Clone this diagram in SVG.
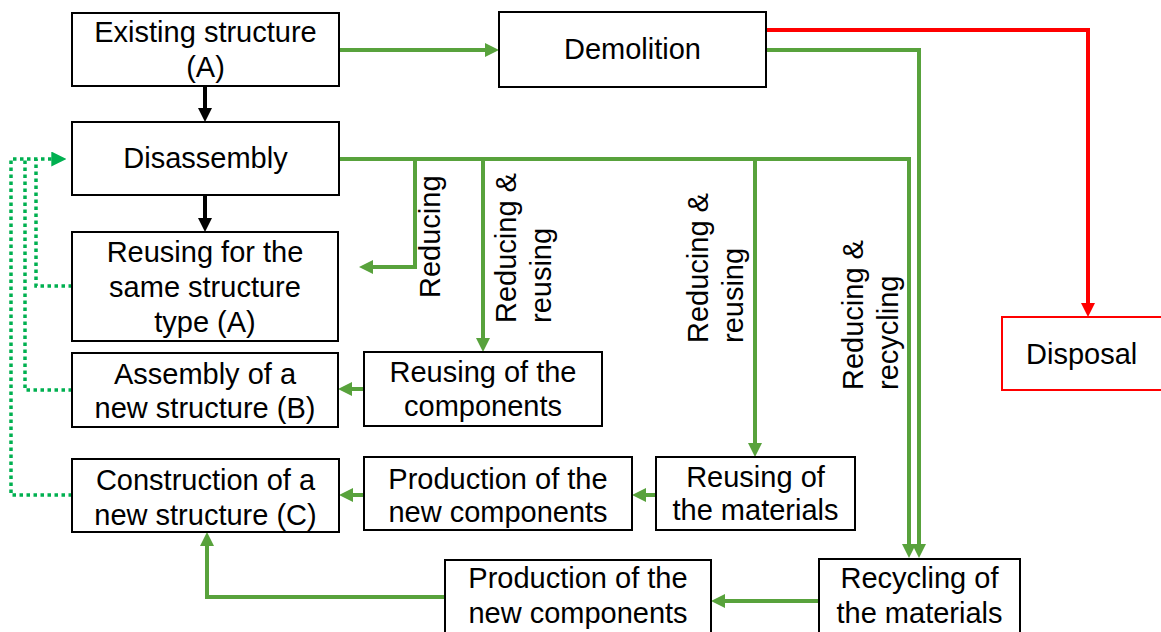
<svg xmlns="http://www.w3.org/2000/svg" width="1161" height="632" viewBox="0 0 1161 632">
<style>
.box{fill:#fff;stroke:#000;stroke-width:2}
.rbox{fill:#fff;stroke:#ff0000;stroke-width:2}
text{font-family:"Liberation Sans",Arial,sans-serif;font-size:29px;fill:#000}
.c{text-anchor:middle}
.g{fill:none;stroke:#58a23c;stroke-width:4;stroke-linejoin:miter}
.r{fill:none;stroke:#ff0000;stroke-width:4}
.k{fill:none;stroke:#000;stroke-width:4}
.d{fill:none;stroke:#00b050;stroke-width:3.5;stroke-dasharray:3.5 3.5}
</style>
<defs>
<marker id="ag" viewBox="0 0 14 14" refX="8" refY="7" markerWidth="14" markerHeight="14" markerUnits="userSpaceOnUse" orient="auto"><path d="M0,0 L14,7 L0,14 z" fill="#58a23c"/></marker>
<marker id="ar" viewBox="0 0 14 14" refX="8" refY="7" markerWidth="14" markerHeight="14" markerUnits="userSpaceOnUse" orient="auto"><path d="M0,0 L14,7 L0,14 z" fill="#ff0000"/></marker>
<marker id="ak" viewBox="0 0 14 14" refX="8" refY="7" markerWidth="14" markerHeight="14" markerUnits="userSpaceOnUse" orient="auto"><path d="M0,0 L14,7 L0,14 z" fill="#000"/></marker>
<marker id="ad" viewBox="0 0 14 14" refX="10" refY="7" markerWidth="15" markerHeight="15" markerUnits="userSpaceOnUse" orient="auto"><path d="M0,0 L14,7 L0,14 z" fill="#00b050"/></marker>
</defs>

<g id="connectors">
<path class="g" d="M339,50 H493" marker-end="url(#ag)"/>
<path class="g" d="M766,50 H919 V552" marker-end="url(#ag)"/>
<path class="g" d="M339,159 H909 V552" marker-end="url(#ag)"/>
<path class="g" d="M415,159 V267 H365" marker-end="url(#ag)"/>
<path class="g" d="M483,159 V346" marker-end="url(#ag)"/>
<path class="g" d="M755,159 V451" marker-end="url(#ag)"/>
<path class="g" d="M364,389 H344" marker-end="url(#ag)"/>
<path class="g" d="M656,495 H638" marker-end="url(#ag)"/>
<path class="g" d="M364,495 H345" marker-end="url(#ag)"/>
<path class="g" d="M819,601 H717" marker-end="url(#ag)"/>
<path class="g" d="M445,597 H207 V538" marker-end="url(#ag)"/>
<path class="r" d="M766,30 H1088 V311" marker-end="url(#ar)"/>
<path class="k" d="M205,86 V116" marker-end="url(#ak)"/>
<path class="k" d="M205,195 V226" marker-end="url(#ak)"/>
<path class="d" d="M72,286 H36 V159"/>
<path class="d" d="M72,390 H25 V159"/>
<path class="d" d="M72,495 H11 V159 H62" marker-end="url(#ad)"/>
<text transform="translate(440,298) rotate(-90)">Reducing</text>
<text transform="translate(516,323) rotate(-90)">Reducing &amp;</text>
<text transform="translate(551,323) rotate(-90)">reusing</text>
<text transform="translate(708,343) rotate(-90)">Reducing &amp;</text>
<text transform="translate(743,343) rotate(-90)">reusing</text>
<text transform="translate(863,390) rotate(-90)">Reducing &amp;</text>
<text transform="translate(898,390) rotate(-90)">recycling</text>
</g>

<g id="existing"><rect class="box" x="72" y="13" width="267" height="73"/><text class="c" x="205.5" y="42">Existing structure</text><text class="c" x="205.5" y="77">(A)</text></g>
<g id="demolition"><rect class="box" x="499" y="12" width="267" height="75"/><text class="c" x="632.5" y="59">Demolition</text></g>
<g id="disassembly"><rect class="box" x="72" y="122" width="267" height="73"/><text class="c" x="205.5" y="168">Disassembly</text></g>
<g id="reuse-same"><rect class="box" x="72" y="232" width="266" height="109"/><text class="c" x="205" y="262">Reusing for the</text><text class="c" x="205" y="297">same structure</text><text class="c" x="205" y="332">type (A)</text></g>
<g id="assembly"><rect class="box" x="72" y="353" width="266" height="74"/><text class="c" x="205" y="384">Assembly of a</text><text class="c" x="205" y="418">new structure (B)</text></g>
<g id="reuse-comp"><rect class="box" x="364" y="352" width="238" height="74"/><text class="c" x="483" y="382">Reusing of the</text><text class="c" x="483" y="416">components</text></g>
<g id="construction"><rect class="box" x="72" y="459" width="267" height="73"/><text class="c" x="205.5" y="490">Construction of a</text><text class="c" x="205.5" y="525">new structure (C)</text></g>
<g id="production1"><rect class="box" x="364" y="457" width="268" height="73"/><text class="c" x="498" y="489">Production of the</text><text class="c" x="498" y="522">new components</text></g>
<g id="reuse-mat"><rect class="box" x="656" y="457" width="199" height="73"/><text class="c" x="755.5" y="487">Reusing of</text><text class="c" x="755.5" y="520">the materials</text></g>
<g id="production2"><rect class="box" x="445" y="560" width="266" height="90"/><text class="c" x="578" y="588">Production of the</text><text class="c" x="578" y="623">new components</text></g>
<g id="recycling"><rect class="box" x="819" y="559" width="201" height="90"/><text class="c" x="919.5" y="588">Recycling of</text><text class="c" x="919.5" y="623">the materials</text></g>
<g id="disposal"><rect class="rbox" x="1002" y="317" width="180" height="73"/><text x="1026" y="364">Disposal</text></g>
</svg>
